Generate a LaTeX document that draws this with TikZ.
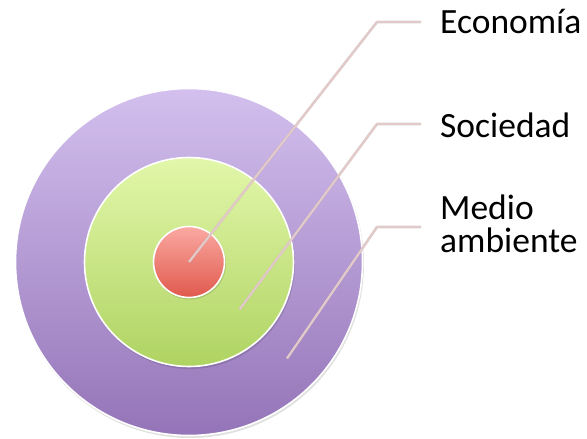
\documentclass[tikz,border=0pt]{standalone}
\usepackage{fontspec}
\setmainfont{Carlito}
\usetikzlibrary{positioning}
\definecolor{ambtop}{HTML}{D3C0EE}
\definecolor{ambbot}{HTML}{9474B8}
\definecolor{soctop}{HTML}{E2F7AA}
\definecolor{socbot}{HTML}{AFD362}
\definecolor{ecotop}{HTML}{FAA9A2}
\definecolor{ecobot}{HTML}{E0594D}
\definecolor{leader}{HTML}{E2CACA}
\tikzset{
  ring/.style={circle, draw=white, line width=1.6pt, inner sep=0pt},
  shadowring/.style={circle, fill=black, opacity=0.12, inner sep=0pt},
  leaderline/.style={draw=leader, line width=2.4pt, line join=round},
  leadershadow/.style={draw=black, opacity=0.12, line width=2.6pt, line join=round},
  lbl/.style={anchor=base west, inner sep=0pt, font=\fontsize{35.5}{33}\selectfont, text=black, align=left}
}
\begin{document}
\begin{tikzpicture}[x=1pt,y=-1pt]
\useasboundingbox (0,0) rectangle (587,439);
% shadows
\node[shadowring, minimum size=348pt] at (190,264) {};
% rings
\node[ring, minimum size=347pt, top color=ambtop, bottom color=ambbot] (amb) at (189,262) {};
\node[shadowring, minimum size=210pt] at (190,264) {};
\node[ring, minimum size=209pt, top color=soctop, bottom color=socbot] (soc) at (189,262) {};
\node[shadowring, minimum size=72pt] at (190,263.5) {};
\node[ring, minimum size=71pt, top color=ecotop, bottom color=ecobot] (eco) at (189,262) {};
% labels
\node[lbl] (teco) at (440,34) {Economía};
\node[lbl] (tsoc) at (440,137) {Sociedad};
\node[lbl] (tamb) at (440,252) {Medio\\ambiente};
% leader coordinates
\coordinate (e0) at (eco.center);
\coordinate (e1) at (377,22);
\coordinate (e2) at (421,22);
\coordinate (s0) at (239.5,309.5);
\coordinate (s1) at (377,124);
\coordinate (s2) at (421,124);
\coordinate (m0) at (287,358.5);
\coordinate (m1) at (377,227);
\coordinate (m2) at (421,227);
% leader shadows
\begin{scope}[shift={(0.8,1.2)}]
\draw[leadershadow] (e0) -- (e1) -- (e2);
\draw[leadershadow] (s0) -- (s1) -- (s2);
\draw[leadershadow] (m0) -- (m1) -- (m2);
\end{scope}
% leaders
\draw[leaderline] (e0) -- (e1) -- (e2);
\draw[leaderline] (s0) -- (s1) -- (s2);
\draw[leaderline] (m0) -- (m1) -- (m2);
\end{tikzpicture}
\end{document}
